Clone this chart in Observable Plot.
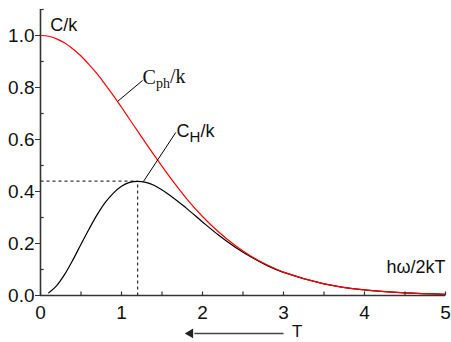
<!DOCTYPE html>
<html>
<head>
<meta charset="utf-8">
<script src="https://cdn.jsdelivr.net/npm/d3@7"></script>
<script src="https://cdn.jsdelivr.net/npm/@observablehq/plot@0.6"></script>
<style>
  html, body { margin: 0; padding: 0; background: #fff; }
  #chart svg { display: block; }
</style>
</head>
<body>
<div id="chart"></div>
<script>
// ħω/2kT values
const xs = [0, 0.1, 0.2, 0.3, 0.4, 0.5, 0.6, 0.7, 0.8, 0.9, 1.0, 1.1, 1.2, 1.3, 1.4, 1.6, 1.8, 2.0, 2.2, 2.4, 2.6, 2.8, 3.0, 3.5, 4.0, 4.5, 5.0];
// C_ph/k (red)
const cph = [1.0, 0.997, 0.987, 0.971, 0.948, 0.921, 0.888, 0.852, 0.811, 0.769, 0.724, 0.678, 0.632, 0.586, 0.541, 0.454, 0.374, 0.304, 0.244, 0.193, 0.151, 0.117, 0.090, 0.045, 0.0215, 0.010, 0.0045];
// C_H/k (black)
const chx = [0.1, 0.2, 0.3, 0.4, 0.5, 0.6, 0.7, 0.8, 0.9, 1.0, 1.1, 1.2, 1.3, 1.4, 1.6, 1.8, 2.0, 2.2, 2.4, 2.6, 2.8, 3.0, 3.5, 4.0, 4.5, 5.0];
const ch = [0.010, 0.038, 0.082, 0.137, 0.197, 0.256, 0.311, 0.358, 0.394, 0.420, 0.435, 0.439, 0.435, 0.424, 0.385, 0.336, 0.283, 0.232, 0.187, 0.148, 0.115, 0.089, 0.045, 0.0215, 0.010, 0.0045];

const peakX = 1.2, peakY = 0.44;
const xTickLabels = [0, 1, 2, 3, 4, 5];
const xTicks = [0, 0.5, 1, 1.5, 2, 2.5, 3, 3.5, 4, 4.5, 5];
const yTickLabels = [0, 0.2, 0.4, 0.6, 0.8, 1.0];
const yMinor = [0.1, 0.3, 0.5, 0.7, 0.9, 1.1];

const red = xs.map((x, i) => ({x, y: cph[i]}));
const black = chx.map((x, i) => ({x, y: ch[i]}));

// annotations
const labels = [
  {x: 0.12, y: 1.04, text: "C/k", anchor: "start"},
  {x: 1.26, y: 0.84, text: "Cph/k", anchor: "start"},
  {x: 1.68, y: 0.63, text: "CH/k", anchor: "start"},
  {x: 5.0, y: 0.11, text: "hω/2kT", anchor: "end"}
];
const tLabel = [{x: 3.17, y: -0.138, text: "T"}];
const leaders = [
  {x1: 0.95, y1: 0.746, x2: 1.26, y2: 0.827},
  {x1: 1.27, y1: 0.438, x2: 1.67, y2: 0.627}
];
const arrowT = {x1: 3.0, x2: 1.9, y: -0.146, head: 1.85};

const W = 451, H = 342;
const tickLenY = 4 / 260, tickLenX = 4 / 81;

const plot = Plot.plot({
  width: W, height: H,
  marginLeft: 40, marginRight: 6, marginTop: 9, marginBottom: 47,
  x: {domain: [0, 5]},
  y: {domain: [0, 1.1]},
  style: {fontFamily: "Liberation Sans, Arial, sans-serif", fontSize: "19px", background: "#fff"},
  marks: [
    // dashed guides
    Plot.link([{x1: 0, y1: peakY, x2: peakX, y2: peakY}, {x1: peakX, y1: 0, x2: peakX, y2: peakY}],
      {x1: "x1", y1: "y1", x2: "x2", y2: "y2", stroke: "#000", strokeWidth: 1, strokeDasharray: "3,3"}),
    // curves
    Plot.line(black, {x: "x", y: "y", stroke: "#000", strokeWidth: 1.2, curve: "catmull-rom"}),
    Plot.line(red, {x: "x", y: "y", stroke: "#ff0000", strokeWidth: 1.2, curve: "catmull-rom"}),
    // leader lines
    Plot.link(leaders, {x1: "x1", y1: "y1", x2: "x2", y2: "y2", stroke: "#000", strokeWidth: 1}),
    // axis lines
    Plot.ruleY([0], {x1: 0, x2: 5, stroke: "#333", strokeWidth: 1.6}),
    Plot.ruleX([0], {y1: 0, y2: 1.1, stroke: "#333", strokeWidth: 1.6}),
    // x ticks (inside, upward)
    Plot.link(xTicks, {x1: d => d, x2: d => d, y1: 0, y2: tickLenY, stroke: "#333", strokeWidth: 1.2}),
    // y minor ticks (inside, right)
    Plot.link(yMinor, {x1: 0, x2: tickLenX * 0.8, y1: d => d, y2: d => d, stroke: "#333", strokeWidth: 1.2}),
    // axes labels
    Plot.axisX({ticks: xTickLabels, tickSize: 0, tickPadding: 10, tickFormat: d => String(d), label: null, fill: "#111"}),
    Plot.axisY({ticks: yTickLabels, tickSize: 5, tickPadding: 1, tickFormat: d3.format(".1f"), label: null, stroke: "#333", fill: "#111"}),
    // T arrow
    Plot.link([arrowT], {x1: "x1", x2: "x2", y1: "y", y2: "y", stroke: "#444", strokeWidth: 1.5}),
    Plot.dot([arrowT], {x: "head", y: "y", symbol: "triangle", r: 3.6, fill: "#222", stroke: null, rotate: -90}),
    // texts
    Plot.text(labels.filter(d => d.anchor === "start"), {x: "x", y: "y", text: "text", textAnchor: "start", fill: "#111", fontSize: 18}),
    Plot.text(labels.filter(d => d.anchor === "end"), {x: "x", y: "y", text: "text", textAnchor: "end", fill: "#111", fontSize: 18}),
    Plot.text(tLabel, {x: "x", y: "y", text: "text", textAnchor: "middle", fill: "#111", fontSize: 17})
  ]
});

// subscripts and fonts
plot.querySelectorAll("text").forEach(t => {
  const s = t.textContent;
  if (s === "Cph/k" || s === "CH/k") {
    const sub = s === "Cph/k" ? "ph" : "H";
    const serif = s === "Cph/k";
    t.textContent = "";
    const ns = "http://www.w3.org/2000/svg";
    const a = document.createElementNS(ns, "tspan"); a.textContent = "C";
    const b = document.createElementNS(ns, "tspan"); b.textContent = sub;
    b.setAttribute("dy", "0.3em"); b.setAttribute("font-size", serif ? "14" : "15");
    const c = document.createElementNS(ns, "tspan"); c.textContent = "/k";
    c.setAttribute("dy", serif ? "-0.23em" : "-0.25em");
    t.append(a, b, c);
    if (serif) { t.setAttribute("font-family", "Liberation Serif, Times New Roman, serif"); t.setAttribute("font-size", "20"); }
  }
});
document.getElementById("chart").append(plot);
</script>
</body>
</html>
